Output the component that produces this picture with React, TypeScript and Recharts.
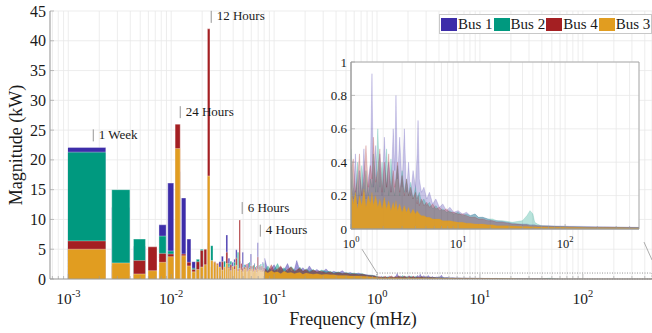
import React from 'react';
import {
  ComposedChart,
  Area,
  XAxis,
  YAxis,
  CartesianGrid,
  ReferenceArea,
  ReferenceDot,
  ReferenceLine,
  Legend,
} from 'recharts';

const FONT = '"Liberation Serif", "Times New Roman", serif';
const AXIS = '#9a9a9a';
const GRID = '#e9e9e9';

const SERIES = [
  { id: 1, name: 'Bus 1', color: '#3d2da9' },
  { id: 2, name: 'Bus 2', color: '#00997f' },
  { id: 4, name: 'Bus 4', color: '#a41f22' },
  { id: 3, name: 'Bus 3', color: '#e19d20' },
];

// FFT bin spacing: one cycle per week, in mHz
const BIN_MHZ = 1000 / 604800;

// low-frequency bins k = 1..48 (kW)
const BUS1_BARS = [22.1, 12, 5.5, 4.0, 9.1, 16.1, 18, 13.6, 6.7, 2.9, 2.5, 3.0, 2.0, 6, 2.0, 2.4, 1.5, 2.9, 3.8, 2.2, 7.4, 3.5, 1.8, 2.8, 3.3, 4.9, 2.0, 3.0, 1.6, 4.5, 1.9, 2.4, 1.5, 2.7, 1.8, 4.2, 2.0, 1.5, 2.6, 1.7, 2.2, 6.1, 1.6, 2.3, 1.9, 1.4, 2.8, 1.7];
const BUS2_BARS = [21.3, 15.0, 6.7, 3.0, 7.2, 4.7, 14, 3.5, 2.5, 1.8, 3.3, 5.0, 1.5, 5, 5.6, 2.0, 1.8, 1.6, 2.3, 3.0, 2.5, 2.6, 3.0, 2.0, 2.8, 2.0, 4.5, 2.2, 1.4, 1.9, 2.4, 1.6, 2.1, 1.8, 2.8, 1.6, 2.2, 1.4, 2.4, 1.9, 1.5, 2.0, 2.3, 1.7, 2.5, 1.5, 1.8, 2.6];
const BUS4_BARS = [6.4, 2.2, 3.1, 5.4, 4.3, 4.2, 26.0, 4.2, 2.8, 1.6, 2.9, 4.8, 5.0, 42.0, 2.0, 2.9, 2.6, 1.8, 2.9, 1.6, 4.5, 2.0, 2.4, 1.9, 2.2, 3.5, 1.7, 9.9, 2.6, 1.8, 2.0, 1.5, 2.5, 1.6, 1.9, 2.2, 1.4, 2.3, 1.6, 2.0, 1.8, 3.7, 1.5, 2.1, 1.4, 2.2, 1.6, 1.9];
const BUS3_BARS = [5.0, 2.7, 0.85, 1.4, 2.8, 3.75, 21.9, 3.9, 2.2, 1.2, 1.6, 2.0, 2.4, 17.3, 3.1, 2.8, 2.4, 2.0, 1.5, 2.0, 2.6, 1.8, 1.4, 2.1, 1.6, 2.3, 1.3, 1.8, 1.5, 1.2, 1.6, 1.9, 1.2, 1.4, 1.6, 1.3, 1.7, 1.2, 1.4, 1.5, 1.1, 1.6, 1.3, 1.5, 1.2, 1.4, 1.1, 1.3];

// dense part of the spectrum, read as an envelope (mHz / kW)
const HF_FREQ = [
  0.081, 0.087, 0.094, 0.1, 0.108, 0.116, 0.125, 0.135, 0.146, 0.158, 0.166, 0.178, 0.19, 0.205, 0.22, 0.24, 0.26, 0.29, 0.32, 0.35, 0.38, 0.42, 0.46, 0.5, 0.55, 0.6, 0.66, 0.72, 0.8, 0.88, 0.95,
  1, 1.05, 1.1, 1.15, 1.2, 1.26, 1.32, 1.38, 1.45, 1.52, 1.57, 1.62, 1.7, 1.78, 1.86, 1.95, 2.05, 2.15, 2.25, 2.36, 2.48, 2.56, 2.63, 2.72, 2.85, 3.0, 3.15, 3.3, 3.45, 3.6, 3.8, 4.0, 4.15, 4.23, 4.35, 4.55, 4.8, 5.1, 5.4, 5.8, 6.2, 6.7, 7.2, 7.8, 8.4, 9.1,
  10, 11, 12, 13, 14.4, 15.5, 17, 19, 21, 23, 26, 29, 32, 36, 40, 44, 47, 50, 52, 55, 60, 70, 80, 95,
  110, 130, 160, 200, 250, 320, 400, 490,
];
const BUS1_HF = [
  3.5, 1.4, 1.8, 2.4, 1.3, 2.0, 1.5, 2.6, 1.2, 1.7, 3.1, 1.4, 1.9, 1.3, 2.2, 1.2, 1.6, 1.1, 1.7, 1.0, 1.3, 1.0, 1.4, 0.9, 1.1, 0.8, 1.0, 0.8, 0.7, 0.6, 0.55,
  0.30, 0.18, 0.45, 0.15, 0.35, 0.20, 0.48, 0.18, 0.30, 0.40, 0.93, 0.25, 0.50, 0.22, 0.45, 0.20, 0.55, 0.25, 0.40, 0.22, 0.60, 0.35, 0.80, 0.30, 0.55, 0.25, 0.60, 0.22, 0.40, 0.20, 0.35, 0.25, 0.45, 0.65, 0.30, 0.22, 0.25, 0.18, 0.22, 0.15, 0.18, 0.13, 0.15, 0.11, 0.13, 0.10,
  0.11, 0.09, 0.10, 0.08, 0.09, 0.07, 0.07, 0.06, 0.05, 0.05, 0.045, 0.04, 0.035, 0.03, 0.03, 0.03, 0.025, 0.025, 0.025, 0.02, 0.02, 0.02, 0.018, 0.018,
  0.016, 0.016, 0.015, 0.014, 0.013, 0.012, 0.011, 0.01,
];
const BUS2_HF = [
  1.2, 2.2, 1.3, 1.6, 2.6, 1.4, 1.9, 1.2, 2.1, 1.5, 1.3, 2.0, 1.2, 1.7, 1.3, 1.6, 1.1, 1.5, 1.2, 1.3, 1.0, 1.2, 0.9, 1.1, 0.9, 1.0, 0.8, 0.9, 0.6, 0.65, 0.5,
  0.48, 0.25, 0.20, 0.40, 0.18, 0.38, 0.22, 0.35, 0.20, 0.30, 0.25, 0.45, 0.22, 0.60, 0.25, 0.40, 0.22, 0.48, 0.20, 0.42, 0.25, 0.20, 0.30, 0.38, 0.20, 0.35, 0.22, 0.30, 0.20, 0.28, 0.18, 0.25, 0.18, 0.20, 0.22, 0.16, 0.18, 0.14, 0.16, 0.12, 0.14, 0.11, 0.12, 0.10, 0.11, 0.09,
  0.10, 0.08, 0.09, 0.08, 0.09, 0.07, 0.07, 0.06, 0.06, 0.05, 0.05, 0.045, 0.04, 0.045, 0.05, 0.08, 0.11, 0.09, 0.04, 0.03, 0.02, 0.018, 0.016, 0.015,
  0.014, 0.013, 0.012, 0.011, 0.01, 0.01, 0.009, 0.009,
];
const BUS4_HF = [
  1.8, 1.2, 2.4, 1.3, 1.7, 2.2, 1.1, 1.6, 2.0, 1.2, 1.5, 1.8, 1.3, 1.6, 1.1, 1.5, 1.2, 1.3, 1.0, 1.2, 0.9, 1.1, 0.9, 1.0, 0.8, 0.9, 0.7, 0.8, 0.6, 0.55, 0.5,
  0.35, 0.42, 0.22, 0.30, 0.45, 0.20, 0.32, 0.50, 0.25, 0.38, 0.30, 0.55, 0.28, 0.35, 0.48, 0.22, 0.40, 0.25, 0.45, 0.22, 0.35, 0.25, 0.30, 0.40, 0.22, 0.32, 0.20, 0.30, 0.20, 0.25, 0.18, 0.22, 0.15, 0.20, 0.14, 0.18, 0.14, 0.16, 0.13, 0.15, 0.12, 0.13, 0.11, 0.12, 0.10, 0.10,
  0.09, 0.09, 0.08, 0.07, 0.07, 0.06, 0.06, 0.05, 0.05, 0.04, 0.04, 0.035, 0.03, 0.03, 0.025, 0.025, 0.02, 0.02, 0.02, 0.02, 0.018, 0.016, 0.015, 0.014,
  0.013, 0.012, 0.011, 0.01, 0.01, 0.009, 0.009, 0.008,
];
const BUS3_HF = [
  1.3, 1.0, 1.4, 1.1, 1.2, 0.9, 1.3, 1.0, 1.1, 0.9, 1.0, 1.1, 0.8, 1.0, 0.9, 0.8, 0.9, 0.7, 0.8, 0.7, 0.7, 0.6, 0.6, 0.6, 0.5, 0.5, 0.5, 0.45, 0.4, 0.35, 0.3,
  0.25, 0.15, 0.22, 0.12, 0.20, 0.14, 0.24, 0.13, 0.20, 0.15, 0.22, 0.14, 0.20, 0.13, 0.18, 0.12, 0.19, 0.12, 0.17, 0.11, 0.16, 0.12, 0.17, 0.11, 0.15, 0.10, 0.14, 0.10, 0.13, 0.09, 0.12, 0.09, 0.11, 0.10, 0.09, 0.08, 0.08, 0.07, 0.07, 0.06, 0.06, 0.06, 0.05, 0.05, 0.05, 0.045,
  0.04, 0.04, 0.035, 0.035, 0.03, 0.03, 0.03, 0.025, 0.025, 0.02, 0.02, 0.02, 0.018, 0.016, 0.015, 0.015, 0.014, 0.014, 0.013, 0.012, 0.012, 0.011, 0.01, 0.01,
  0.009, 0.009, 0.008, 0.008, 0.007, 0.007, 0.006, 0.006,
];

const PEAKS = [
  { text: '1 Week', bin: 1, value: 22.1 },
  { text: '24 Hours', bin: 7, value: 26.0 },
  { text: '12 Hours', bin: 14, value: 42.0 },
  { text: '6 Hours', bin: 28, value: 9.9 },
  { text: '4 Hours', bin: 42, value: 6.1 },
];

const Y_TICKS = [0, 5, 10, 15, 20, 25, 30, 35, 40, 45];
const INSET_Y_TICKS = [0, 0.2, 0.4, 0.6, 0.8, 1];
const DECADES = [0.0001, 0.001, 0.01, 0.1, 1, 10, 100];
const X_DOMAIN: [number, number] = [0.000664, 470];
const INSET_X_DOMAIN: [number, number] = [1, 490];

const logTicks = (lo: number, hi: number) =>
  DECADES.flatMap((d) => [1, 2, 3, 4, 5, 6, 7, 8, 9].map((m) => +(m * d).toPrecision(6))).filter(
    (v) => v >= lo && v <= hi,
  );
const isMajor = (v: number) => Math.abs(Math.log10(v) - Math.round(Math.log10(v))) < 1e-6;

const MAIN_TICKS = logTicks(X_DOMAIN[0], X_DOMAIN[1]);
const INSET_TICKS = logTicks(INSET_X_DOMAIN[0], INSET_X_DOMAIN[1]);

const barRows: any[] = [];
BUS1_BARS.forEach((_, i) => {
  const k = i + 1;
  barRows.push({ f: (k - 0.4) * BIN_MHZ, b1: BUS1_BARS[i], b2: BUS2_BARS[i], b4: BUS4_BARS[i], b3: BUS3_BARS[i] });
  barRows.push({ f: (k + 0.4) * BIN_MHZ, b1: 0, b2: 0, b4: 0, b3: 0 });
});
const hfRows = HF_FREQ.map((f, i) => ({ f, h1: BUS1_HF[i], h2: BUS2_HF[i], h4: BUS4_HF[i], h3: BUS3_HF[i] }));
const mainRows = [...barRows, ...hfRows];
const insetRows = hfRows.filter((r) => r.f >= 1);

const XTick = (props: any) => {
  const { x, y, payload, up, size, sup, dy } = props;
  const v = payload.value;
  const major = isMajor(v);
  const e = Math.round(Math.log10(v));
  return (
    <g>
      <line x1={x} x2={x} y1={y} y2={up ? y - (major ? 5 : 3) : y + (major ? 5 : 3)} stroke={AXIS} strokeWidth={0.6} />
      {major && dy != null && (
        <text x={x} y={y + dy} textAnchor="middle" fontFamily={FONT} fontSize={size} fill="#1a1a1a">
          10
          <tspan dy={-size * 0.45} fontSize={sup}>
            {e}
          </tspan>
        </text>
      )}
    </g>
  );
};

const YTick = (props: any) => {
  const { x, y, payload, size } = props;
  return (
    <g>
      <line x1={x} x2={x + 4} y1={y} y2={y} stroke={AXIS} strokeWidth={0.6} />
      <text x={x - 4} y={y} dy={size * 0.35} textAnchor="end" fontFamily={FONT} fontSize={size} fill="#1a1a1a">
        {payload.value}
      </text>
    </g>
  );
};

const PeakLabel = ({ viewBox, text }: any) => {
  const { x, y } = viewBox;
  return (
    <g>
      <line x1={x + 2.5} x2={x + 2.5} y1={y - 6} y2={y - 18} stroke="#8a8a8a" strokeWidth={0.9} />
      <text x={x + 8} y={y - 8.5} fontFamily={FONT} fontSize={13} fill="#1a1a1a">
        {text}
      </text>
    </g>
  );
};

const BusLegend = () => (
  <div
    style={{
      display: 'flex',
      alignItems: 'center',
      border: '1px solid #c8c8c8',
      background: '#fff',
      height: 18,
      paddingLeft: 1,
      fontFamily: FONT,
      fontSize: 15,
      color: '#1a1a1a',
      whiteSpace: 'nowrap',
    }}
  >
    {SERIES.map((s) => (
      <div key={s.id} style={{ display: 'flex', alignItems: 'center', marginRight: 1 }}>
        <span style={{ width: 16, height: 13, background: s.color, display: 'inline-block', marginRight: 1 }} />
        <span>{s.name}</span>
      </div>
    ))}
  </div>
);

export default function App() {
  return (
    <div style={{ position: 'absolute', left: 0, top: 0, width: 652, height: 333, background: '#fff', fontFamily: FONT }}>
      <ComposedChart width={652} height={333} data={mainRows} margin={{ top: 11, right: 0, bottom: 0, left: 0 }}>
        <CartesianGrid stroke={GRID} strokeWidth={0.8} />
        <XAxis
          dataKey="f"
          type="number"
          scale="log"
          domain={X_DOMAIN}
          allowDataOverflow
          ticks={MAIN_TICKS}
          interval={0}
          tickLine={false}
          tickSize={0}
          tickMargin={0}
          axisLine={{ stroke: AXIS }}
          height={54}
          tick={(p: any) => <XTick {...p} up size={15.5} sup={10.5} dy={25} />}
          label={(p: any) => (
            <text x={p.viewBox.x + p.viewBox.width / 2 + 2} y={p.viewBox.y + 46} textAnchor="middle" fontFamily={FONT} fontSize={18} fill="#1a1a1a">
              Frequency (mHz)
            </text>
          )}
        />
        <XAxis
          xAxisId="top"
          orientation="top"
          type="number"
          scale="log"
          domain={X_DOMAIN}
          allowDataOverflow
          ticks={MAIN_TICKS}
          interval={0}
          tickLine={false}
          tickSize={0}
          tickMargin={0}
          height={0}
          axisLine={{ stroke: AXIS }}
          tick={(p: any) => <XTick {...p} up={false} />}
        />
        <YAxis
          type="number"
          domain={[0, 45]}
          ticks={Y_TICKS}
          interval={0}
          width={50}
          tickLine={false}
          tickSize={0}
          tickMargin={0}
          axisLine={{ stroke: AXIS }}
          tick={(p: any) => <YTick {...p} size={16} />}
          label={(p: any) => {
            const cx = p.viewBox.x + 22;
            const cy = p.viewBox.y + p.viewBox.height / 2;
            return (
              <text x={cx} y={cy} transform={`rotate(-90 ${cx} ${cy})`} textAnchor="middle" fontFamily={FONT} fontSize={18} fill="#1a1a1a">
                Magnitude (kW)
              </text>
            );
          }}
        />
        {SERIES.map((s) => (
          <Area
            key={`bar-${s.id}`}
            dataKey={`b${s.id}`}
            type="stepAfter"
            fill={s.color}
            fillOpacity={1}
            stroke="#ffffff"
            strokeOpacity={0.5}
            strokeWidth={0.7}
            isAnimationActive={false}
            dot={false}
            activeDot={false}
          />
        ))}
        {SERIES.map((s) => (
          <Area
            key={`hf-${s.id}`}
            dataKey={`h${s.id}`}
            type="linear"
            fill={s.color}
            fillOpacity={s.id === 3 ? 0.95 : 0.5}
            stroke={s.color}
            strokeOpacity={0.5}
            strokeWidth={0.5}
            isAnimationActive={false}
            dot={false}
            activeDot={false}
          />
        ))}
        <ReferenceArea x1={1} x2={X_DOMAIN[1]} y1={0} y2={1} fill="none" stroke="#777" strokeWidth={0.8} strokeDasharray="1 1.5" ifOverflow="visible" />
        <ReferenceLine segment={[{ x: 1, y: 1 }, { x: 0.715, y: 5 }]} stroke="#8a8a8a" strokeWidth={0.7} />
        <ReferenceLine segment={[{ x: 393, y: 6.2 }, { x: 470, y: 3.2 }]} stroke="#8a8a8a" strokeWidth={0.7} ifOverflow="visible" />
        {PEAKS.map((p) => (
          <ReferenceDot
            key={p.text}
            x={p.bin * BIN_MHZ}
            y={p.value}
            r={0}
            fill="none"
            stroke="none"
            label={(lp: any) => <PeakLabel viewBox={lp.viewBox} text={p.text} />}
          />
        ))}
        <Legend
          layout="horizontal"
          verticalAlign="middle"
          align="center"
          content={() => <BusLegend />}
          wrapperStyle={{ left: 439, top: 14, width: 'auto', height: 'auto' }}
        />
      </ComposedChart>

      <div style={{ position: 'absolute', left: 300, top: 50, width: 345, height: 205 }}>
        <ComposedChart width={345} height={205} data={insetRows} margin={{ top: 12, right: 6, bottom: 0, left: 0 }}>
          <CartesianGrid stroke={GRID} strokeWidth={0.8} fill="#ffffff" fillOpacity={1} />
          <XAxis
            dataKey="f"
            type="number"
            scale="log"
            domain={INSET_X_DOMAIN}
            allowDataOverflow
            ticks={INSET_TICKS}
            interval={0}
            tickLine={false}
            tickSize={0}
            tickMargin={0}
            axisLine={{ stroke: AXIS }}
            height={26}
            tick={(p: any) => <XTick {...p} up size={12.5} sup={8.5} dy={19} />}
          />
          <YAxis
            type="number"
            domain={[0, 1]}
            allowDataOverflow
            ticks={INSET_Y_TICKS}
            interval={0}
            width={51}
            tickLine={false}
            tickSize={0}
            tickMargin={0}
            axisLine={{ stroke: AXIS }}
            tick={(p: any) => <YTick {...p} size={13} />}
          />
          {SERIES.map((s) => (
            <Area
              key={`inset-${s.id}`}
              dataKey={`h${s.id}`}
              type="linear"
              fill={s.color}
              fillOpacity={s.id === 3 ? 0.9 : 0.28}
              stroke={s.color}
              strokeOpacity={0.35}
              strokeWidth={0.5}
              isAnimationActive={false}
              dot={false}
              activeDot={false}
            />
          ))}
          <ReferenceArea x1={INSET_X_DOMAIN[0]} x2={INSET_X_DOMAIN[1]} y1={0} y2={1} fill="none" stroke={AXIS} strokeWidth={0.8} />
        </ComposedChart>
      </div>
    </div>
  );
}
